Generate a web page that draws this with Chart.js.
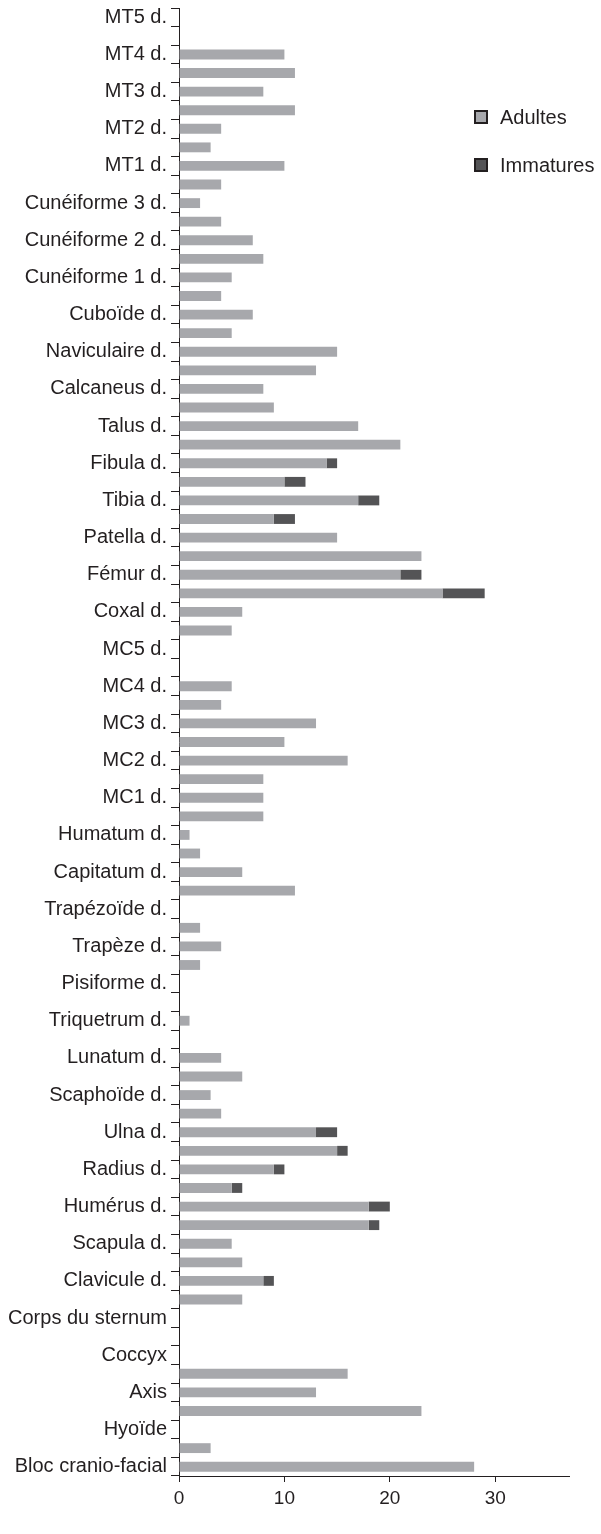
<!DOCTYPE html>
<html>
<head>
<meta charset="utf-8">
<script src="https://cdn.jsdelivr.net/npm/chart.js@4"></script>
<style>
  html, body { margin: 0; padding: 0; background: #ffffff; }
  #wrap { width: 601px; height: 1534px; }
</style>
</head>
<body>
<div id="wrap"><canvas id="c" width="601" height="1534"></canvas></div>
<script>
// Skeletal elements, listed from the bottom of the axis upward (g. / d. pairs)
const categories = [
  "Bloc cranio-facial", "Mandibule", "Hyoïde", "Atlas", "Axis", "Sacrum",
  "Coccyx", "Manubrium", "Corps du sternum",
  "Clavicule g.", "Clavicule d.", "Scapula g.", "Scapula d.",
  "Humérus g.", "Humérus d.", "Radius g.", "Radius d.", "Ulna g.", "Ulna d.",
  "Scaphoïde g.", "Scaphoïde d.", "Lunatum g.", "Lunatum d.",
  "Triquetrum g.", "Triquetrum d.", "Pisiforme g.", "Pisiforme d.",
  "Trapèze g.", "Trapèze d.", "Trapézoïde g.", "Trapézoïde d.",
  "Capitatum g.", "Capitatum d.", "Humatum g.", "Humatum d.",
  "MC1 g.", "MC1 d.", "MC2 g.", "MC2 d.", "MC3 g.", "MC3 d.",
  "MC4 g.", "MC4 d.", "MC5 g.", "MC5 d.",
  "Coxal g.", "Coxal d.", "Fémur g.", "Fémur d.", "Patella g.", "Patella d.",
  "Tibia g.", "Tibia d.", "Fibula g.", "Fibula d.", "Talus g.", "Talus d.",
  "Calcaneus g.", "Calcaneus d.", "Naviculaire g.", "Naviculaire d.",
  "Cuboïde g.", "Cuboïde d.", "Cunéiforme 1 g.", "Cunéiforme 1 d.",
  "Cunéiforme 2 g.", "Cunéiforme 2 d.", "Cunéiforme 3 g.", "Cunéiforme 3 d.",
  "MT1 g.", "MT1 d.", "MT2 g.", "MT2 d.", "MT3 g.", "MT3 d.",
  "MT4 g.", "MT4 d.", "MT5 g.", "MT5 d."
];

// Number of elements per category
const adultes = [
  28, 3, 0, 23, 13, 16,
  0, 0, 0,
  6, 8, 6, 5,
  18, 18, 5, 9, 15, 13,
  4, 3, 6, 4,
  0, 1, 0, 0,
  2, 4, 2, 0,
  11, 6, 2, 1,
  8, 8, 8, 16, 10, 13,
  4, 5, 0, 0,
  5, 6, 25, 21, 23, 15,
  9, 17, 10, 14, 21, 17,
  9, 8, 13, 15,
  5, 7, 4, 5,
  8, 7, 4, 2,
  4, 10, 3, 4, 11, 8,
  11, 10, 0, 0
];

const immatures = [
  0, 0, 0, 0, 0, 0,
  0, 0, 0,
  0, 1, 0, 0,
  1, 2, 1, 1, 1, 2,
  0, 0, 0, 0,
  0, 0, 0, 0,
  0, 0, 0, 0,
  0, 0, 0, 0,
  0, 0, 0, 0, 0, 0,
  0, 0, 0, 0,
  0, 0, 4, 2, 0, 0,
  2, 2, 2, 1, 0, 0,
  0, 0, 0, 0,
  0, 0, 0, 0,
  0, 0, 0, 0,
  0, 0, 0, 0, 0, 0,
  0, 0, 0, 0
];

const xTicks = [0, 10, 20, 30];
const xMax = 37;

const INK = '#231f20';
const FONT = '"Liberation Sans", Arial, sans-serif';

// Legend drawn as a stacked list inside the plot area, right side
const sideLegend = {
  id: 'sideLegend',
  afterDraw(chart) {
    const ctx = chart.ctx;
    chart.data.datasets.forEach((ds, i) => {
      const bx = 475, by = 111 + i * 48, s = 12;
      ctx.save();
      ctx.fillStyle = ds.backgroundColor;
      ctx.fillRect(bx, by, s, s);
      ctx.lineWidth = 2;
      ctx.strokeStyle = INK;
      ctx.strokeRect(bx, by, s, s);
      ctx.fillStyle = INK;
      ctx.font = '20px ' + FONT;
      ctx.textBaseline = 'middle';
      ctx.textAlign = 'left';
      ctx.fillText(ds.label, 500, by + s / 2 + 1);
      ctx.restore();
    });
  }
};

new Chart(document.getElementById('c'), {
  type: 'bar',
  data: {
    labels: categories,
    datasets: [
      { label: 'Adultes', data: adultes, backgroundColor: '#a7a8ac',
        categoryPercentage: 1, barPercentage: 0.53 },
      { label: 'Immatures', data: immatures, backgroundColor: '#545456',
        categoryPercentage: 1, barPercentage: 0.53 }
    ]
  },
  options: {
    indexAxis: 'y',
    responsive: false,
    animation: false,
    devicePixelRatio: 1,
    layout: { padding: { top: 8, right: 32, left: 0, bottom: 0 } },
    plugins: { legend: { display: false }, tooltip: { enabled: false } },
    scales: {
      y: {
        type: 'category',
        stacked: true,
        reverse: true,
        offset: true,
        grid: { offset: true, drawOnChartArea: false, drawTicks: true,
                tickLength: 8, color: INK, lineWidth: 1 },
        border: { display: true, color: INK, width: 1 },
        ticks: {
          autoSkip: false,
          padding: 4,
          color: INK,
          font: { family: FONT, size: 20 },
          callback(v, i) { return i % 2 === 0 ? this.getLabelForValue(v) : ''; }
        },
        afterFit(s) { s.width = 179; s.paddingTop = 0; s.paddingBottom = 0; }
      },
      x: {
        type: 'linear',
        stacked: true,
        min: 0,
        max: xMax,
        grid: { drawOnChartArea: false, drawTicks: true, tickLength: 6,
                color: INK, lineWidth: 1 },
        border: { display: true, color: INK, width: 1 },
        ticks: {
          stepSize: 10,
          includeBounds: false,
          padding: 5,
          color: INK,
          font: { family: FONT, size: 19 },
          callback(v) { return xTicks.includes(v) ? String(v) : ''; }
        },
        afterFit(s) { s.height = 58; s.paddingLeft = 0; s.paddingRight = 0; }
      }
    }
  },
  plugins: [sideLegend]
});
</script>
</body>
</html>
